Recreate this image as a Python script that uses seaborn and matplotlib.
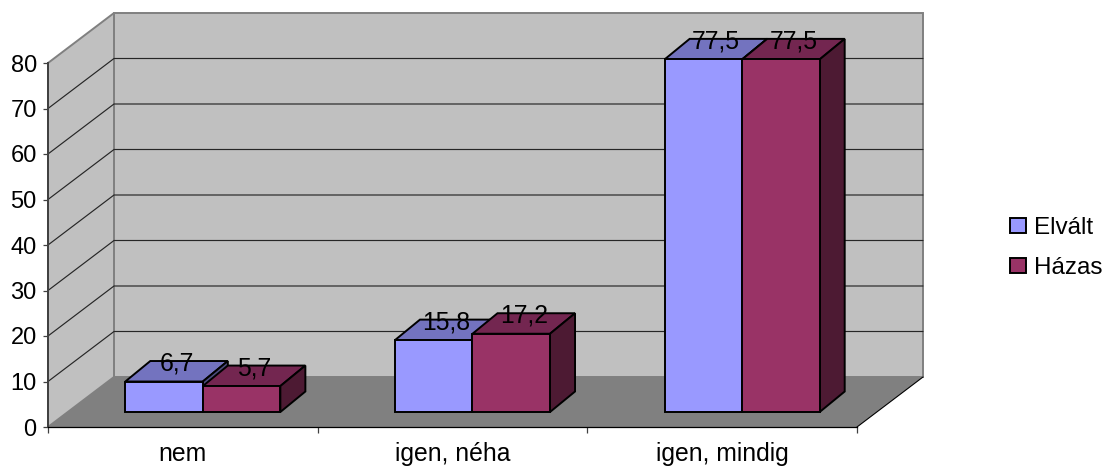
import matplotlib
matplotlib.use("Agg")
import matplotlib.pyplot as plt
import pandas as pd
import seaborn as sns
from matplotlib.patches import Polygon

categories = ["nem", "igen, néha", "igen, mindig"]
series_names = ["Elvált", "Házas"]
elvalt = [6.7, 15.8, 77.5]
hazas = [5.7, 17.2, 77.5]
y_ticks = [0, 10, 20, 30, 40, 50, 60, 70, 80]

front_colors = ["#9999FF", "#993366"]
top_colors = ["#7373BF", "#732650"]
side_colors = ["#4D4D80", "#4D1A33"]

sns.set_theme(style="white")
plt.rcParams["font.family"] = ["Liberation Sans", "DejaVu Sans"]
plt.rcParams["text.color"] = "black"

W, H = 1120, 466
LEFT, RIGHT, Y0, Y80 = 48, 857, 427, 63
fig = plt.figure(figsize=(W / 100, H / 100), dpi=100, facecolor="white")
ax = fig.add_axes([LEFT / W, (H - Y0) / H, (RIGHT - LEFT) / W, (Y0 - Y80) / H])
ax.patch.set_visible(False)

frame = pd.DataFrame({
    "kategoria": categories * 2,
    "csoport": [series_names[0]] * 3 + [series_names[1]] * 3,
    "ertek": elvalt + hazas,
})
sns.barplot(data=frame, x="kategoria", y="ertek", hue="csoport", order=categories,
            hue_order=series_names, palette=front_colors, saturation=1, width=0.575,
            gap=0, errorbar=None, edgecolor="black", linewidth=1.4, ax=ax, clip_on=False)
bars = [p for p in ax.patches if p.get_height() > 0]

ax.set_xlim(-0.5, 2.5)
ax.set_ylim(0, 80)
px_x = (RIGHT - LEFT) / 3
px_y = (Y0 - Y80) / 80


def shift(px_right, px_up):
    return px_right / px_x, px_up / px_y


# Box shell: floor, back wall and side wall of the pseudo-3D frame
wall_dx, wall_dy = shift(66, 50)
x0, x1 = -0.5, 2.5
shell = dict(clip_on=False, joinstyle="miter")
ax.add_patch(Polygon([(x0, 0), (x1, 0), (x1 + wall_dx, wall_dy), (x0 + wall_dx, wall_dy)],
                     facecolor="#808080", edgecolor="none", zorder=0.5, **shell))
ax.add_patch(Polygon([(x0 + wall_dx, wall_dy), (x1 + wall_dx, wall_dy),
                      (x1 + wall_dx, 80 + wall_dy), (x0 + wall_dx, 80 + wall_dy)],
                     facecolor="#C0C0C0", edgecolor="#808080", linewidth=1.4, zorder=0.6, **shell))
ax.add_patch(Polygon([(x0, 0), (x0 + wall_dx, wall_dy), (x0 + wall_dx, 80 + wall_dy), (x0, 80)],
                     facecolor="#C0C0C0", edgecolor="#808080", linewidth=1.4, zorder=0.7, **shell))
ax.plot([x1, x1 + wall_dx], [0, wall_dy], color="black", lw=0.8, clip_on=False, zorder=0.8)

# Gridlines run along the side wall and then across the back wall
for tick in y_ticks[1:-1]:
    ax.plot([x0, x0 + wall_dx, x1 + wall_dx], [tick, tick + wall_dy, tick + wall_dy],
            color="#262626", lw=0.85, clip_on=False, zorder=0.9)

# Extrude each bar: move the front face forward off the axis plane, add top and side faces
bar_dx, bar_dy = shift(20, 15)
deep_dx, deep_dy = shift(25, 20.5)
values = elvalt + hazas
labels = []
for i, (bar, value) in enumerate(zip(bars, values)):
    series = i // 3
    order = 2 + series * 2 + (i % 3) * 0.01
    xl = bar.get_x() + bar_dx
    xr = xl + bar.get_width()
    yb = bar_dy
    yt = yb + bar.get_height()
    bar.set_xy((xl, yb))
    bar.set_zorder(order + 0.5)
    edge = dict(edgecolor="black", linewidth=1.4, clip_on=False, joinstyle="miter", zorder=order)
    ax.add_patch(Polygon([(xl, yt), (xr, yt), (xr + deep_dx, yt + deep_dy), (xl + deep_dx, yt + deep_dy)],
                         facecolor=top_colors[series], **edge))
    ax.add_patch(Polygon([(xr, yb), (xr + deep_dx, yb + deep_dy), (xr + deep_dx, yt + deep_dy), (xr, yt)],
                         facecolor=side_colors[series], **edge))
    labels.append((xl + bar.get_width() / 2 + deep_dx / 2, yt + deep_dy, value))

for x, y, value in labels:
    ax.text(x, y, f"{value:.1f}".replace(".", ","), ha="center", va="center_baseline",
            fontsize=17.8, color="black", zorder=10, clip_on=False)

# Axes, ticks and legend
ax.set_xlabel("")
ax.set_ylabel("")
ax.set_yticks(y_ticks)
ax.set_xticks([-0.5, 0.5, 1.5, 2.5])
ax.set_xticklabels([])
ax.set_xticks([0, 1, 2], labels=categories, minor=True)
for side in ("top", "right"):
    ax.spines[side].set_visible(False)
ax.spines["left"].set_color("#404040")
ax.spines["left"].set_linewidth(1.4)
ax.spines["bottom"].set_color("black")
ax.spines["bottom"].set_linewidth(0.9)
ax.spines["left"].set_zorder(1.1)
ax.spines["bottom"].set_zorder(1.1)
ax.tick_params(axis="y", left=True, length=3.6, width=0.9, color="#404040", labelsize=17,
               labelcolor="black", pad=4.5)
ax.tick_params(axis="x", which="major", bottom=True, length=4.3, width=0.9, color="#404040")
ax.tick_params(axis="x", which="minor", bottom=False, labelsize=17.8, labelcolor="black", pad=7)

sns.move_legend(ax, loc="upper left", bbox_to_anchor=((1010 - LEFT) / (RIGHT - LEFT), (Y0 - 217) / (Y0 - Y80)),
                title=None, frameon=False, fontsize=17.5, handlelength=0.66, handleheight=0.61,
                handletextpad=0.32, labelspacing=0.75, borderpad=0, borderaxespad=0)

fig.savefig("out.png", dpi=100, facecolor="white")
